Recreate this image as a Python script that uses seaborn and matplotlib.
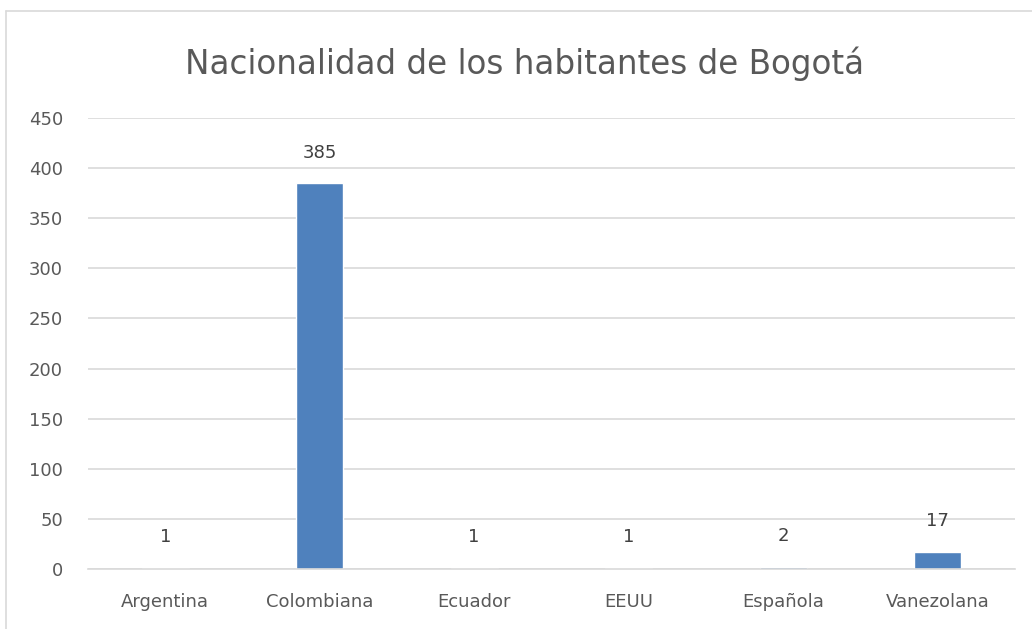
import matplotlib
matplotlib.use('Agg')
import matplotlib.pyplot as plt
from matplotlib.lines import Line2D
import seaborn as sns
import pandas as pd

# datos
nacionalidades = ['Argentina', 'Colombiana', 'Ecuador', 'EEUU', 'Española', 'Vanezolana']
habitantes = [1, 385, 1, 1, 2, 17]

datos = pd.DataFrame({'Nacionalidad': nacionalidades, 'Habitantes': habitantes})

sns.set_style('white')
plt.rcParams['font.family'] = ['DejaVu Sans']

gris = '#595959'
azul = '#4F81BD'

fig = plt.figure(figsize=(10.32, 6.29), dpi=100)
ax = fig.add_axes([0.0853, 0.0954, 0.898, 0.717])

sns.barplot(data=datos, x='Nacionalidad', y='Habitantes', color=azul,
            width=0.305, saturation=1, ax=ax)

ax.set_ylim(0, 450)
ax.set_yticks(range(0, 451, 50))
ax.set_xlim(-0.5, 5.5)
ax.yaxis.grid(True, color='#D9D9D9', linewidth=1.2)
ax.set_axisbelow(True)
for s in ['top', 'right', 'left']:
    ax.spines[s].set_visible(False)
ax.spines['bottom'].set_color('#D9D9D9')
ax.spines['bottom'].set_linewidth(1.2)

ax.tick_params(axis='both', length=0, labelsize=13, colors=gris)
ax.tick_params(axis='y', pad=18)
ax.tick_params(axis='x', pad=17)
ax.set_xlabel('')
ax.set_ylabel('')

ax.bar_label(ax.containers[0], padding=15.5, fontsize=13, color='#404040')

fig.text(0.508, 0.899, 'Nacionalidad de los habitantes de Bogotá',
         ha='center', va='center', fontsize=23.5, color=gris)

# borde del recuadro (solo arriba e izquierda visibles en el recorte)
fig.add_artist(Line2D([6/1032, 1], [1 - 11/629, 1 - 11/629], color='#D9D9D9', lw=1.2))
fig.add_artist(Line2D([6/1032, 6/1032], [0, 1 - 11/629], color='#D9D9D9', lw=1.2))

fig.savefig('out.png', dpi=100)
